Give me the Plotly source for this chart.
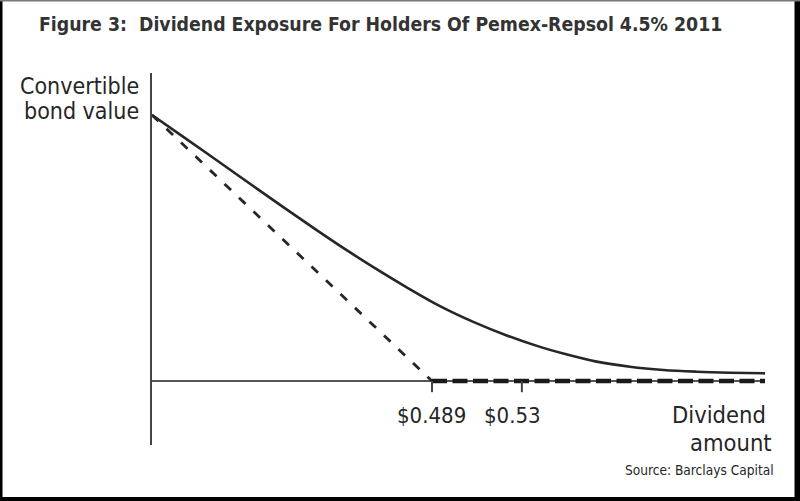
import plotly.graph_objects as go

# ---- data (schematic units) ----
curve_x = [0.0, 0.0547, 0.1130, 0.1711, 0.2293, 0.2876, 0.3400, 0.3865, 0.4448, 0.5030,
           0.5611, 0.6195, 0.6776, 0.7183, 0.7766, 0.8348, 0.8930, 0.9513, 1.0094, 1.0706]
curve_y = [1.0, 0.9179, 0.8299, 0.7416, 0.6537, 0.5674, 0.4919, 0.4282, 0.3524, 0.2814,
           0.2221, 0.1713, 0.1283, 0.1031, 0.0728, 0.0536, 0.0414, 0.0350, 0.0312, 0.0288]
intrinsic_x = [0.0, 0.489]
intrinsic_y = [1.0, 0.0]
floor_x = [0.489, 1.0706]
floor_y = [0.0, 0.0]
tick_vals = [0.489, 0.646]
tick_labels = ["$0.489", "$0.53"]

W, H = 800, 501
L, R, T, B = 152, 35, 73, 56
PW, PH = W - L - R, H - T - B

def px(x):
    return (x - L) / PW

def py(y):
    return (H - B - y) / PH

FONT = "DejaVu Sans Condensed, Liberation Sans Narrow, Arial Narrow, sans-serif"
INK = "#262626"

fig = go.Figure()
fig.add_trace(go.Scatter(x=curve_x, y=curve_y, mode="lines",
                         line=dict(color=INK, width=2.6, shape="spline", smoothing=1.0),
                         hoverinfo="skip", showlegend=False))
fig.add_trace(go.Scatter(x=intrinsic_x, y=intrinsic_y, mode="lines",
                         line=dict(color=INK, width=2.8, dash="9px,11px"),
                         hoverinfo="skip", showlegend=False))
fig.add_trace(go.Scatter(x=floor_x, y=floor_y, mode="lines",
                         line=dict(color="#1a1a1a", width=4.5, dash="15px,5.5px"),
                         hoverinfo="skip", showlegend=False))
for tv in tick_vals:
    fig.add_trace(go.Scatter(x=[tv, tv], y=[0, -0.042], mode="lines",
                             line=dict(color="#444", width=2),
                             hoverinfo="skip", showlegend=False))

annotations = []
shifts = [0, -9]
for tv, tl, sh in zip(tick_vals, tick_labels, shifts):
    annotations.append(dict(x=tv, y=-0.128, xref="x", yref="y", text=tl, showarrow=False,
                            xshift=sh, font=dict(family=FONT, size=22, color=INK),
                            xanchor="center", yanchor="middle"))

def txt(t, x, y, size, xanchor="left", bold=False, color=INK):
    annotations.append(dict(x=px(x), y=py(y), xref="paper", yref="paper",
                            text=("<b>%s</b>" % t) if bold else t, showarrow=False,
                            xanchor=xanchor, yanchor="middle",
                            font=dict(family=FONT, size=size, color=color)))

txt("Figure 3:  Dividend Exposure For Holders Of Pemex-Repsol 4.5% 2011", 37, 25, 19.3, bold=True, color="#333")
txt("Convertible", 141, 86, 23, xanchor="right")
txt("bond value", 141, 111, 23, xanchor="right")
txt("Dividend", 719, 415, 23.5, xanchor="center")
txt("amount", 731, 443, 23.5, xanchor="center")
txt("Source: Barclays Capital", 776, 470, 13.6, xanchor="right")

shapes = [
    dict(type="rect", xref="paper", yref="paper", x0=px(0), x1=px(2.5), y0=py(0), y1=py(H),
         fillcolor="black", line=dict(width=0)),
    dict(type="rect", xref="paper", yref="paper", x0=px(794.5), x1=px(W), y0=py(0), y1=py(H),
         fillcolor="black", line=dict(width=0)),
    dict(type="rect", xref="paper", yref="paper", x0=px(0), x1=px(W), y0=py(497), y1=py(H),
         fillcolor="black", line=dict(width=0)),
    dict(type="rect", xref="paper", yref="paper", x0=px(0), x1=px(W), y0=py(0), y1=py(1.5),
         fillcolor="#777", line=dict(width=0)),
]

fig.update_layout(
    width=W, height=H,
    margin=dict(l=L, r=R, t=T, b=B, pad=0),
    paper_bgcolor="white", plot_bgcolor="white",
    xaxis=dict(range=[0, 1.0706], showgrid=False, zeroline=False, showline=False,
               showticklabels=False, ticks="", fixedrange=True),
    yaxis=dict(range=[-0.2406, 1.158], showgrid=False, zeroline=True, zerolinecolor="#555",
               zerolinewidth=2, showline=True, linecolor="#444", linewidth=2,
               showticklabels=False, ticks="", fixedrange=True),
    annotations=annotations,
    shapes=shapes,
)

fig.write_html("out.html")
